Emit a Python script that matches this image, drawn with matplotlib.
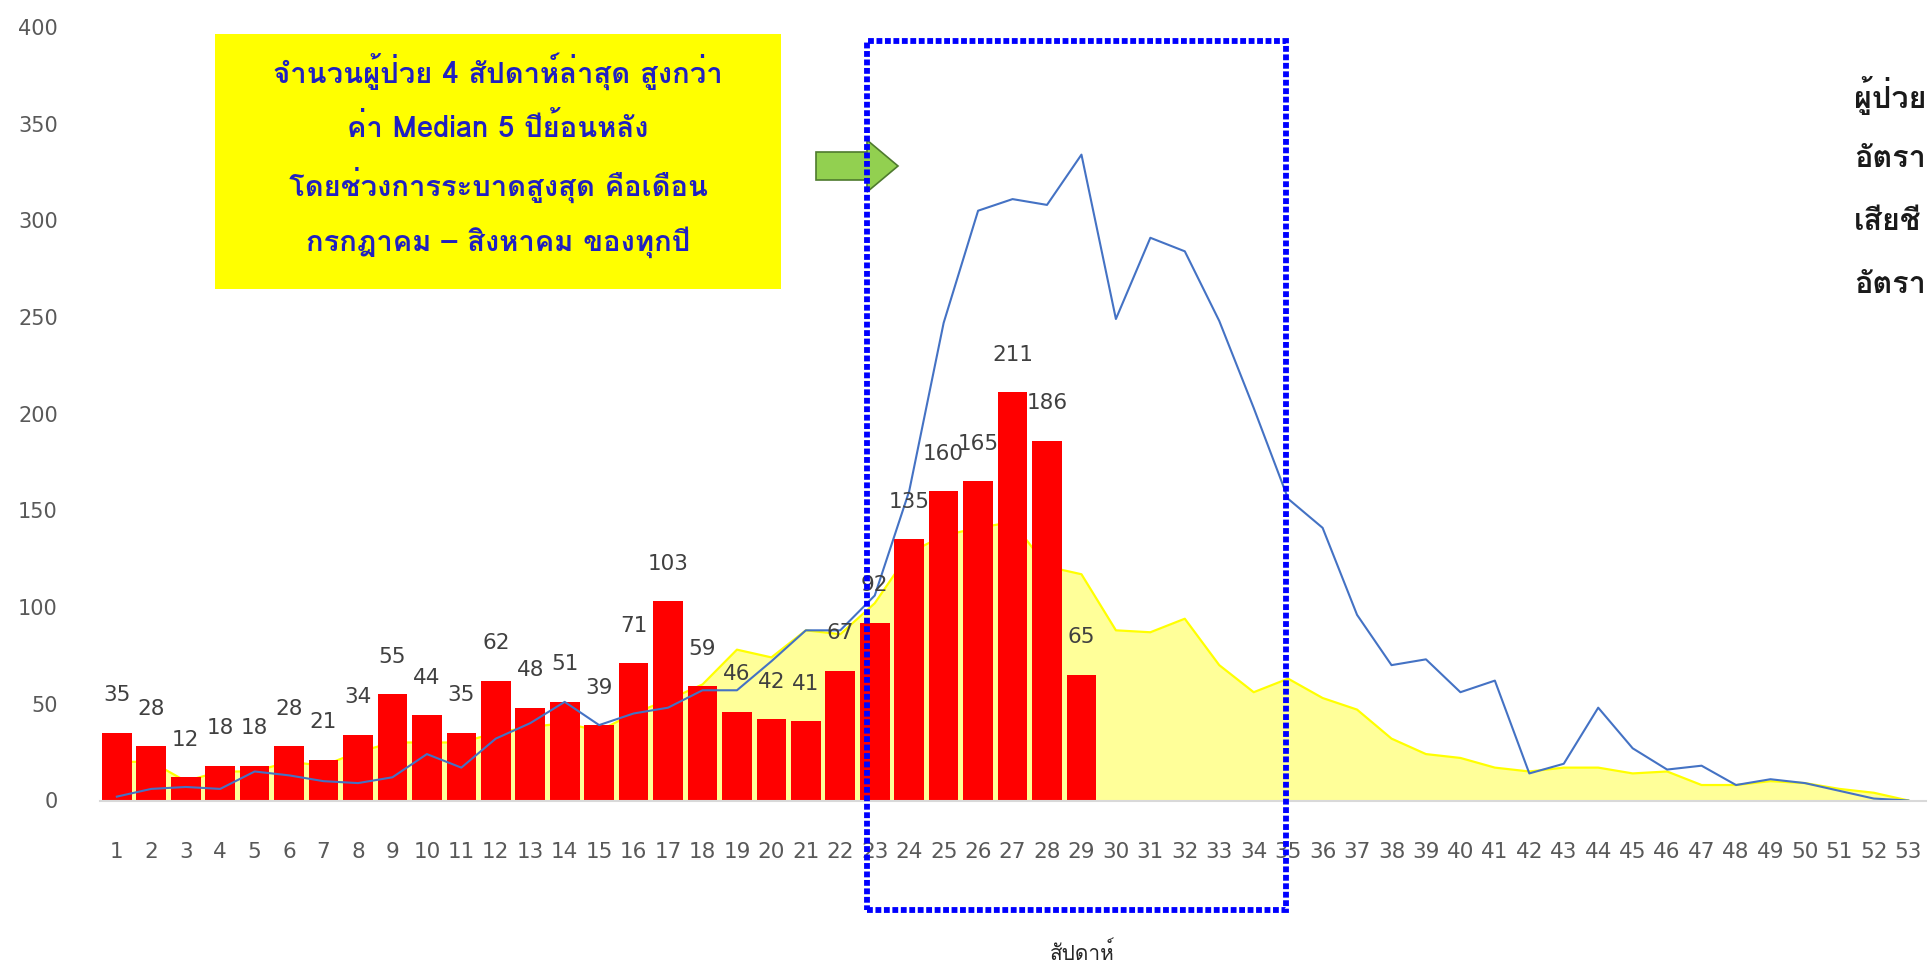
import numpy as np
import matplotlib
matplotlib.use("Agg")
import matplotlib.pyplot as plt
from matplotlib import font_manager, ft2font
from matplotlib.patches import Rectangle, Polygon

weeks = list(range(1, 54))

# จำนวนผู้ป่วยปีปัจจุบัน (bars, weeks 1-29)
cases = [35, 28, 12, 18, 18, 28, 21, 34, 55, 44, 35, 62, 48, 51, 39, 71, 103,
         59, 46, 42, 41, 67, 92, 135, 160, 165, 211, 186, 65]

# previous year (blue line)
last_year = [2, 6, 7, 6, 15, 13, 10, 9, 12, 24, 17, 32, 40, 51, 39, 45, 48,
             57, 57, 72, 88, 88, 106, 160, 247, 305, 311, 308, 334, 249, 291,
             284, 248, 203, 156, 141, 96, 70, 73, 56, 62, 14, 19, 48, 27, 16,
             18, 8, 11, 9, 5, 1, 0]

# median 5 years (yellow area)
median5 = [20, 20, 10, 15, 15, 20, 18, 25, 30, 30, 30, 35, 38, 40, 36, 45, 52,
           60, 78, 74, 88, 86, 102, 128, 137, 141, 144, 121, 117, 88, 87, 94,
           70, 56, 63, 53, 47, 32, 24, 22, 17, 15, 17, 17, 14, 15, 8, 8, 10,
           9, 6, 4, 0]

box_lines = ["จำนวนผู้ป่วย 4 สัปดาห์ล่าสุด สูงกว่า",
             "ค่า Median 5 ปีย้อนหลัง",
             "โดยช่วงการระบาดสูงสุด คือเดือน",
             "กรกฎาคม – สิงหาคม ของทุกปี"]
side_lines = ["ผู้ป่วย", "อัตรา", "เสียชี", "อัตรา"]
x_title = "สัปดาห์"


def find_thai_font():
    preferred = ["Tahoma", "Loma", "Noto Sans Thai", "Sarabun", "Garuda",
                 "Waree", "Kinnari", "Norasi", "Umpush", "Sawasdee"]
    found = []
    for f in font_manager.fontManager.ttflist:
        try:
            cm = ft2font.FT2Font(f.fname).get_charmap()
        except Exception:
            continue
        if 0x0E08 in cm and 0x0E2A in cm:
            found.append(f.name)
    for p in preferred:
        if p in found:
            return p
    return found[0] if found else None


thai = find_thai_font()
fam = [thai, "DejaVu Sans"] if thai else ["DejaVu Sans"]
plt.rcParams["font.family"] = ["DejaVu Sans"]

W, H = 1928, 966
fig = plt.figure(figsize=(W / 100, H / 100), dpi=100)
ax = fig.add_axes([99.6 / W, 165.5 / H, (1925.5 - 99.6) / W, (939 - 165.5) / H])

x = np.array(weeks)
ax.fill_between(x, median5, color="#FFFF99", zorder=1, linewidth=0)
ax.plot(x, median5, color="#FFFF00", lw=1.6, zorder=1.5)

xb = np.arange(1, len(cases) + 1)
ax.bar(xb, cases, width=0.86, color="#FF0000", zorder=2)
ax.plot(x, last_year, color="#4472C4", lw=1.5, zorder=3)

for xi, v in zip(xb, cases):
    ax.annotate(str(v), (xi, v), xytext=(0, 27), textcoords="offset points",
                ha="center", va="center", fontsize=15.5, color="#404040",
                zorder=4)

ax.set_xlim(0.5, 53.5)
ax.set_ylim(0, 400)
ax.set_yticks(range(0, 401, 50))
ax.set_xticks(weeks)
ax.set_xticklabels([str(w) for w in weeks])
ax.tick_params(axis="y", length=0, pad=30, labelsize=15, labelcolor="#595959")
ax.tick_params(axis="x", length=0, pad=30, labelsize=15.5, labelcolor="#595959")
for s in ["left", "right", "top"]:
    ax.spines[s].set_visible(False)
ax.spines["bottom"].set_color("#D9D9D9")
ax.spines["bottom"].set_linewidth(1.5)
ax.spines["bottom"].set_zorder(5)

fig.text(1082 / W, 1 - 953 / H, x_title, ha="center", va="center",
         fontsize=15, color="#262626", family=fam)

# yellow note box
fig.patches.append(Rectangle((215 / W, 1 - 289 / H), (781 - 215) / W, (289 - 34) / H,
                             transform=fig.transFigure, facecolor="#FFFF00",
                             edgecolor="none", zorder=6))
for i, t in enumerate(box_lines):
    fig.text(498 / W, 1 - (71 + i * 57) / H, t, ha="center", va="center",
             fontsize=21, fontweight="bold", color="#2020C0", family=fam,
             zorder=7)

# green arrow
arrow_px = [(816, 152), (867, 152), (867, 140), (898, 166), (867, 192),
            (867, 180), (816, 180)]
fig.patches.append(Polygon([(px / W, 1 - py / H) for px, py in arrow_px],
                           closed=True, transform=fig.transFigure,
                           facecolor="#92D050", edgecolor="#4E7A2E", lw=1.2,
                           zorder=6))

# blue dotted frame
fig.patches.append(Rectangle((867 / W, 1 - 910 / H), (1286 - 867) / W, (910 - 41) / H,
                             transform=fig.transFigure, fill=False,
                             edgecolor="#0000FF", lw=4.2,
                             linestyle=(0, (1.0, 0.45)), zorder=8))

for i, t in enumerate(side_lines):
    fig.text(1854 / W, 1 - (96 + i * 63) / H, t, ha="left", va="center",
             fontsize=22, fontweight="bold", color="#1a1a1a", family=fam)

fig.savefig("out.png", dpi=100)
